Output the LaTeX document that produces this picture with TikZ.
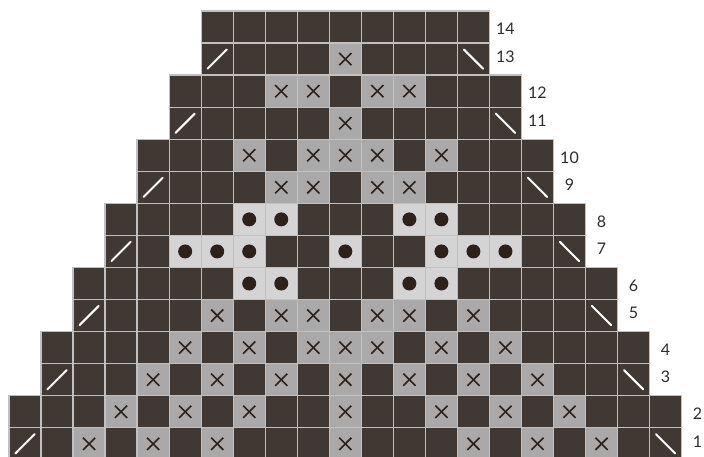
\documentclass[tikz,border=0pt]{standalone}
\usepackage{fontspec}
\setmainfont{Lato}
\definecolor{cellDark}{RGB}{64,56,51}
\definecolor{cellMid}{RGB}{169,169,169}
\definecolor{cellLight}{RGB}{212,212,212}
\definecolor{gridLine}{RGB}{192,192,192}
\definecolor{symDark}{RGB}{45,33,25}
\definecolor{labelGray}{RGB}{45,45,45}
\tikzset{
  cellbox/.style={draw=gridLine, line width=1.3pt},
  slashline/.style={draw=white, line width=2pt, line cap=round},
  crossline/.style={draw=symDark, line width=1.6pt},
  dotmark/.style={fill=symDark},
  rowlabel/.style={anchor=center, font=\fontsize{16}{19}\selectfont, text=labelGray, inner sep=0pt},
}
\def\rowspec{
 1/1/21/{3,5,7,11,15,17,19}/{0},
 2/1/21/{4,6,8,11,14,16,18}/{0},
 3/2/20/{5,7,9,11,13,15,17}/{0},
 4/2/20/{6,8,10,11,12,14,16}/{0},
 5/3/19/{7,9,10,12,13,15}/{0},
 6/3/19/{0}/{8,9,13,14},
 7/4/18/{0}/{6,7,8,11,14,15,16},
 8/4/18/{0}/{8,9,13,14},
 9/5/17/{9,10,12,13}/{0},
 10/5/17/{8,10,11,12,14}/{0},
 11/6/16/{11}/{0},
 12/6/16/{9,10,12,13}/{0},
 13/7/15/{11}/{0},
 14/7/15/{0}/{0}}
\begin{document}
\begin{tikzpicture}[x=32.03pt,y=32.06pt]
\useasboundingbox (-9pt,3.84pt) rectangle (695pt,459.84pt);
% fills
\foreach \r/\s/\e/\xs/\ds in \rowspec {
  \foreach \c in {\s,...,\e} { \fill[cellDark] (\c-1,\r-1) rectangle (\c,\r); }
  \foreach \c in \xs { \ifnum\c>0 \fill[cellMid] (\c-1,\r-1) rectangle (\c,\r); \fi }
  \foreach \c in \ds { \ifnum\c>0 \fill[cellLight] (\c-1,\r-1) rectangle (\c,\r); \fi }
}
% grid, symbols, labels
\foreach \r/\s/\e/\xs/\ds in \rowspec {
  \foreach \c in {\s,...,\e} { \draw[cellbox] (\c-1,\r-1) rectangle (\c,\r); }
  \foreach \c in \xs { \ifnum\c>0
    \draw[crossline] (\c-0.69,\r-0.69) -- (\c-0.31,\r-0.31);
    \draw[crossline] (\c-0.69,\r-0.31) -- (\c-0.31,\r-0.69);
  \fi }
  \foreach \c in \ds { \ifnum\c>0 \fill[dotmark] (\c-0.5,\r-0.5) circle (7pt); \fi }
  \ifodd\r
    \draw[slashline] (\s-0.8,\r-0.8) -- (\s-0.2,\r-0.2);
    \draw[slashline] (\e-0.8,\r-0.2) -- (\e-0.2,\r-0.8);
    \node[rowlabel] (lab\r) at ([xshift=16pt,yshift=2.5pt]\e,\r-0.5) {\r};
  \else
    \node[rowlabel] (lab\r) at ([xshift=16pt,yshift=-2pt]\e,\r-0.5) {\r};
  \fi
}
\end{tikzpicture}
\end{document}
